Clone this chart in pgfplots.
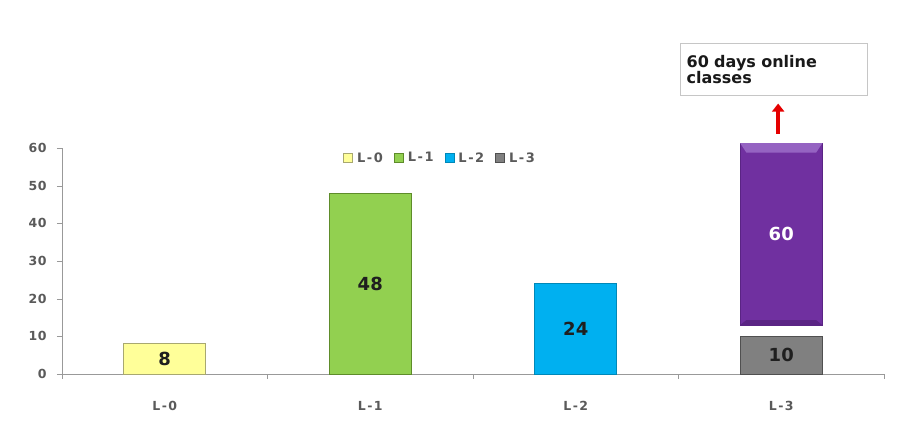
\documentclass[border=0pt]{standalone}
\usepackage{pgfplots}
\pgfplotsset{compat=1.18}
\usetikzlibrary{arrows.meta}
\usepackage{fontspec}
\setmainfont{DejaVu Sans}
\newfontfamily\tickfont[LetterSpace=4]{DejaVu Sans Bold}
\newfontfamily\widefont[LetterSpace=12]{DejaVu Sans Bold}
\definecolor{cyel}{HTML}{FFFF99}
\definecolor{cyelb}{HTML}{A8A870}
\definecolor{cgrn}{HTML}{92D050}
\definecolor{cgrnb}{HTML}{5E8C2A}
\definecolor{cblu}{HTML}{00B0F0}
\definecolor{cblub}{HTML}{0088B8}
\definecolor{cgry}{HTML}{808080}
\definecolor{cgryb}{HTML}{505050}
\definecolor{cpur}{HTML}{7030A0}
\definecolor{cpurl}{HTML}{9563C2}
\definecolor{cpurd}{HTML}{5A2484}
\definecolor{ctxt}{HTML}{5A5A5A}
\begin{document}
\begin{tikzpicture}
\useasboundingbox (0,0) rectangle (903pt,439pt);
\begin{axis}[
  at={(62pt,65pt)}, anchor=south west,
  scale only axis, width=822pt, height=226pt,
  xmin=-0.5, xmax=3.5, ymin=0, ymax=60,
  axis x line=bottom, axis y line=left,
  axis line style={-, draw=gray!80},
  xtick={0,1,2,3}, xticklabels={L-0,L-1,L-2,L-3},
  major x tick style={draw=none},
  minor xtick={-0.5,0.5,1.5,2.5,3.5},
  ytick={0,10,...,60},
  tick align=outside, tick style={draw=gray!80},
  major tick length=5pt, minor tick length=5pt,
  xticklabel style={font=\widefont\fontsize{12.5}{14}\selectfont, text=ctxt, yshift=-19pt},
  yticklabel style={font=\tickfont\fontsize{12.5}{14}\selectfont, text=ctxt, xshift=-7pt},
  /pgf/number format/assume math mode=true,
  clip=false,
  legend style={draw=none, fill=none, at={(0.46,0.956)}, anchor=center,
    legend columns=-1, font=\widefont\fontsize{13}{14}\selectfont, text=ctxt,
    /tikz/every even column/.append style={column sep=9pt}},
  legend image code/.code={\draw[#1] (0pt,-4.5pt) rectangle (9pt,4.5pt);},
  mybar/.style={ybar, bar width=0.4, bar shift=0pt, line width=0.8pt,
    nodes near coords,
    visualization depends on={y/2 \as \half},
    every node near coord/.append style={anchor=center,
      shift={(axis direction cs:0,-\half)},
      font=\bfseries\fontsize{18}{20}\selectfont, text=black!88}},
]
\addplot[mybar, fill=cyel, draw=cyelb] coordinates {(0,8)};
\addlegendentry{\hspace{2pt}L-0}
\addplot[mybar, fill=cgrn, draw=cgrnb] coordinates {(1,48)};
\addlegendentry{\hspace{2pt}L-1}
\addplot[mybar, fill=cblu, draw=cblub] coordinates {(2,24)};
\addlegendentry{\hspace{2pt}L-2}
\addplot[mybar, fill=cgry, draw=cgryb] coordinates {(3,10)};
\addlegendentry{\hspace{2pt}L-3}
% purple 60-day bar (floating)
\addplot[fill=cpur, draw=cpurd, line width=0.6pt, mark=none, forget plot]
  coordinates {(2.8,13) (3.2,13) (3.2,61.3) (2.8,61.3)} -- cycle;
\addplot[fill=cpurl, draw=none, mark=none, forget plot]
  coordinates {(2.8,61.3) (3.2,61.3) (3.17,58.8) (2.83,58.8)} -- cycle;
\addplot[fill=cpurd, draw=none, mark=none, forget plot]
  coordinates {(2.8,13) (3.2,13) (3.17,14.3) (2.83,14.3)} -- cycle;
\addplot[only marks, mark=none, forget plot, nodes near coords={60},
  every node near coord/.style={anchor=center, text=white,
    font=\bfseries\fontsize{18}{20}\selectfont}]
  coordinates {(3,37.3)};
\draw[red!90!black, line width=4.5pt, -{Triangle[width=12pt,length=8pt]}]
  (axis cs:2.985,63.8) -- (axis cs:2.985,71.8);
\node[draw=gray!45, fill=white, anchor=north west, align=left,
  minimum width=187pt, minimum height=52pt, text width=174pt, inner sep=5pt,
  font=\bfseries\fontsize{16}{16}\selectfont, text=black!90]
  at (axis cs:2.507,87.9) {60 days online\\classes};
\end{axis}
\end{tikzpicture}
\end{document}
